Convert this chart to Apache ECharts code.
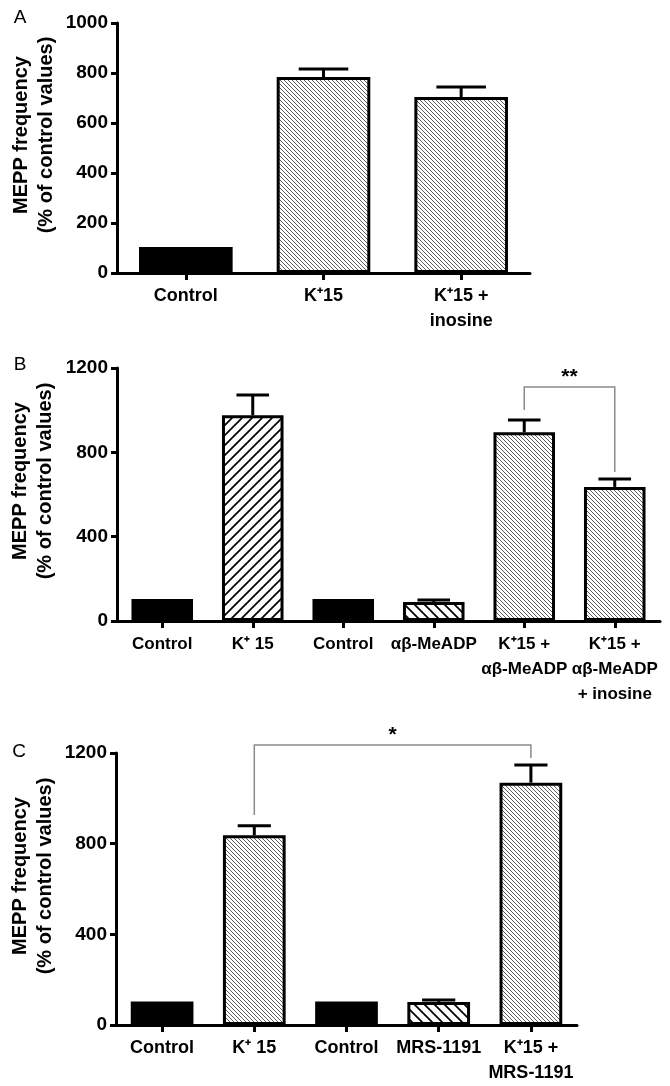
<!DOCTYPE html>
<html>
<head>
<meta charset="utf-8">
<script src="https://cdn.jsdelivr.net/npm/echarts@6/dist/echarts.min.js"></script>
<style>
  html, body { margin: 0; padding: 0; background: #fff; }
  #chart { width: 670px; height: 1086px; }
</style>
</head>
<body>
<div id="chart"></div>
<script>
// ---------- data ----------
const catsA = ['Control', 'K\u207A15', 'K\u207A15 +\ninosine'];
const valsA = [104, 784, 704];
const errsA = [0, 32, 40];

const catsB = ['Control', 'K\u207A 15', 'Control', '\u03B1\u03B2-MeADP', 'K\u207A15 +\n\u03B1\u03B2-MeADP', 'K\u207A15 +\n\u03B1\u03B2-MeADP\n+ inosine'];
const valsB = [104, 976, 104, 90, 895, 636];
const errsB = [0, 96, 0, 10, 58, 38];

const catsC = ['Control', 'K\u207A 15', 'Control', 'MRS-1191', 'K\u207A15 +\nMRS-1191'];
const valsC = [104, 837, 104, 102, 1069];
const errsC = [0, 42, 0, 8, 78];

const ticksA = [0, 200, 400, 600, 800, 1000];
const ticksBC = [0, 400, 800, 1200];

// significance brackets: [fromIndex, toIndex, topValue, leftLegEnd, rightLegEnd]
const sigB = [[4, 5, 1110, 1001, 707]];
const sigBLabel = '**';
const sigC = [[1, 4, 1235, 926, 1178]];
const sigCLabel = '*';

const yTitle = 'MEPP frequency\n(% of control values)';

// ---------- styles ----------
const FONT = '"Liberation Sans", Arial, Helvetica, sans-serif';

function hatch(size, dir, color, lw) {
  const c = document.createElement('canvas');
  c.width = c.height = size;
  const g = c.getContext('2d');
  g.fillStyle = '#fff';
  g.fillRect(0, 0, size, size);
  g.strokeStyle = color;
  g.lineWidth = lw;
  g.beginPath();
  if (dir === '/') {
    g.moveTo(-size, size * 2); g.lineTo(size * 2, -size);
    g.moveTo(-size, size); g.lineTo(size, -size);
    g.moveTo(0, size * 2); g.lineTo(size * 2, 0);
  } else {
    g.moveTo(-size, -size); g.lineTo(size * 2, size * 2);
    g.moveTo(-size, 0); g.lineTo(size, size * 2);
    g.moveTo(0, -size); g.lineTo(size * 2, size);
  }
  g.stroke();
  return { image: c, repeat: 'repeat' };
}
const FILL = {
  black: '#000',
  fine: hatch(4, '\\', '#606060', 1),
  wideF: hatch(10, '/', '#000', 1.7),
  wideB: hatch(10, '\\', '#000', 1.7)
};
const fillA = ['black', 'fine', 'fine'];
const fillB = ['black', 'wideF', 'black', 'wideB', 'fine', 'fine'];
const fillC = ['black', 'fine', 'black', 'wideB', 'fine'];

const axisLine = { show: true, lineStyle: { color: '#000', width: 3 } };
const axisTick = { show: true, inside: false, length: 6, lineStyle: { color: '#000', width: 3 } };

function makeX(idx, cats, fs) {
  return {
    type: 'category', gridIndex: idx, data: cats, boundaryGap: true,
    axisLine: axisLine,
    axisTick: { show: true, alignWithLabel: true, length: 7, lineStyle: { color: '#000', width: 3 } },
    axisLabel: { interval: 0, color: '#000', fontFamily: FONT, fontWeight: 'bold', fontSize: fs, lineHeight: 25, margin: 11 },
    splitLine: { show: false }
  };
}
function makeY(idx, max, interval) {
  return {
    type: 'value', gridIndex: idx, min: 0, max: max, interval: interval,
    axisLine: axisLine, axisTick: axisTick,
    axisLabel: { color: '#000', fontFamily: FONT, fontWeight: 'bold', fontSize: 19, margin: 9,
      formatter: function (v) { return String(v); } },
    splitLine: { show: false }
  };
}
function barSeries(idx, vals, fills) {
  return {
    type: 'bar', xAxisIndex: idx, yAxisIndex: idx, barCategoryGap: '32%',
    data: vals.map((v, i) => ({ value: v, itemStyle: { color: FILL[fills[i]] } })),
    itemStyle: { borderColor: '#000', borderWidth: 3 },
    emphasis: { disabled: true }, silent: true, z: 3
  };
}
function errSeries(idx, vals, errs) {
  return {
    type: 'custom', xAxisIndex: idx, yAxisIndex: idx, silent: true, z: 2, clip: false,
    data: vals.map((v, i) => [i, v, errs[i]]),
    encode: { x: 0, y: 1 },
    renderItem: function (params, api) {
      const i = api.value(0), v = api.value(1), e = api.value(2);
      if (!e) return null;
      const p0 = api.coord([i, v]);
      const p1 = api.coord([i, v + e]);
      const half = api.size([1, 0])[0] * 0.18;
      const st = { stroke: '#000', lineWidth: 3 };
      return { type: 'group', children: [
        { type: 'line', shape: { x1: p0[0], y1: p0[1], x2: p1[0], y2: p1[1] }, style: st },
        { type: 'line', shape: { x1: p1[0] - half, y1: p1[1], x2: p1[0] + half, y2: p1[1] }, style: st }
      ] };
    }
  };
}
function sigSeries(idx, data, label) {
  return {
    type: 'custom', xAxisIndex: idx, yAxisIndex: idx, silent: true, z: 4, clip: false,
    data: data, encode: { x: 0, y: 2 },
    renderItem: function (params, api) {
      const f = api.value(0), t = api.value(1), top = api.value(2), le = api.value(3), re = api.value(4);
      const a = api.coord([f, top]), b = api.coord([t, top]);
      const l = api.coord([f, le]), r = api.coord([t, re]);
      return { type: 'group', children: [
        { type: 'polyline', shape: { points: [[l[0], l[1]], [a[0], a[1]], [b[0], b[1]], [r[0], r[1]]] },
          style: { stroke: '#8a8a8a', lineWidth: 1.5, fill: null } },
        { type: 'text', style: { text: label, x: (a[0] + b[0]) / 2, y: a[1] - 10, align: 'center', verticalAlign: 'middle',
          fill: '#000', font: 'bold 21px ' + FONT } }
      ] };
    }
  };
}
function titleText(x, y) {
  return { type: 'text', x: x, y: y, rotation: Math.PI / 2,
    style: { text: yTitle, align: 'center', verticalAlign: 'middle', fill: '#000',
      font: 'bold 20px ' + FONT, lineHeight: 25 } };
}
function letter(t, x, y) {
  return { type: 'text', x: x, y: y, style: { text: t, align: 'center', verticalAlign: 'middle', fill: '#000', font: '19px ' + FONT } };
}

const chart = echarts.init(document.getElementById('chart'), null, { renderer: 'canvas' });
chart.setOption({
  animation: false,
  backgroundColor: '#fff',
  grid: [
    { left: 117, top: 23, right: 140, height: 250, containLabel: false },
    { left: 117, top: 368, right: 10, height: 253, containLabel: false },
    { left: 116, top: 753, right: 93, height: 272, containLabel: false }
  ],
  xAxis: [makeX(0, catsA, 18), makeX(1, catsB, 17), makeX(2, catsC, 18)],
  yAxis: [
    makeY(0, ticksA[ticksA.length - 1], ticksA[1] - ticksA[0]),
    makeY(1, ticksBC[ticksBC.length - 1], ticksBC[1] - ticksBC[0]),
    makeY(2, ticksBC[ticksBC.length - 1], ticksBC[1] - ticksBC[0])
  ],
  series: [
    barSeries(0, valsA, fillA), errSeries(0, valsA, errsA),
    barSeries(1, valsB, fillB), errSeries(1, valsB, errsB), sigSeries(1, sigB, sigBLabel),
    barSeries(2, valsC, fillC), errSeries(2, valsC, errsC), sigSeries(2, sigC, sigCLabel)
  ],
  graphic: [
    titleText(34, 135), titleText(33, 481), titleText(33, 876),
    letter('A', 20, 18), letter('B', 20, 365), letter('C', 19, 752)
  ]
});
</script>
</body>
</html>
